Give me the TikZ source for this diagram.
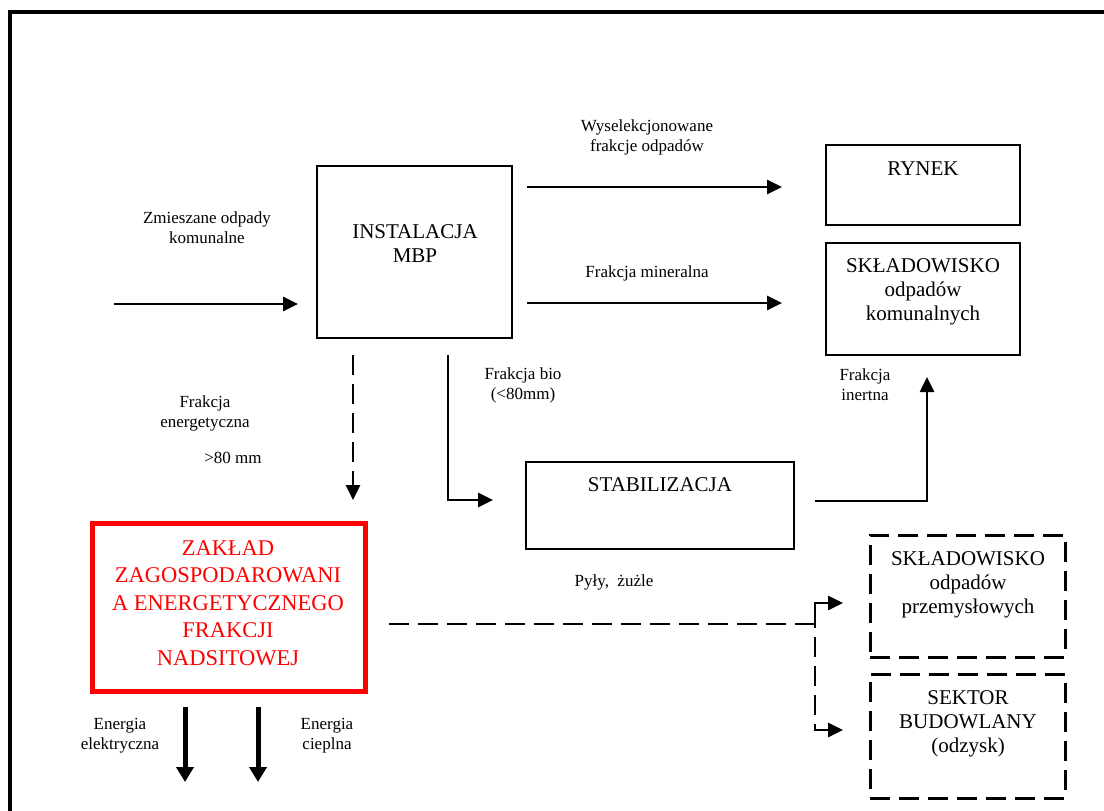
\documentclass[tikz,border=0pt]{standalone}
\usepackage{fontspec}
\setmainfont{Liberation Serif}
\usetikzlibrary{arrows.meta}
\begin{document}
\begin{tikzpicture}[x=1pt,y=-1pt,
  boxs/.style={draw, line width=2pt, inner sep=0pt, outer sep=0pt},
  dbox/.style={draw, line width=3pt, dash pattern=on 20pt off 9pt, inner sep=0pt, outer sep=0pt},
  redbox/.style={draw=red, line width=5pt, inner sep=0pt, outer sep=0pt},
  small/.style={inner sep=0pt, align=center, font=\fontsize{17}{20}\selectfont},
  big/.style={inner sep=0pt, align=center, font=\fontsize{21}{24}\selectfont},
  redtxt/.style={inner sep=0pt, align=center, text=red, font=\fontsize{22.5}{27.5}\selectfont},
  arr/.style={line width=2.6pt, -{Triangle[length=15pt,width=14pt]}},
  darr/.style={arr, dash pattern=on 20pt off 9pt},
  tarr/.style={line width=5pt, -{Triangle[length=15pt,width=17pt]}}]
\useasboundingbox (0,0) rectangle (1104,811);
\clip (0,0) rectangle (1104,811);
\draw[line width=4pt] (10,12) rectangle (1130,840);

% boxes
\node[boxs, minimum width=195pt, minimum height=172pt] (mbp) at (414.5,252) {};
\node[big] (mbpt) at (415,244) {INSTALACJA\\MBP};
\node[boxs, minimum width=194pt, minimum height=80pt] (rynek) at (923,185) {};
\node[big] (rynekt) at (923,168.5) {RYNEK};
\node[boxs, minimum width=194pt, minimum height=112pt] (skl) at (923,299) {};
\node[big] (sklt) at (923,292) {SKŁADOWISKO\\odpadów\\komunalnych};
\node[boxs, minimum width=268pt, minimum height=87pt] (stab) at (660,505.5) {};
\node[big] (stabt) at (660,485) {STABILIZACJA};
\node[redbox, minimum width=273pt, minimum height=168pt] (zak) at (228.5,607) {};
\node[redtxt] (zakt) at (228,603) {ZAKŁAD\\ZAGOSPODAROWANI\\A ENERGETYCZNEGO\\FRAKCJI\\NADSITOWEJ};
\node[dbox, minimum width=195pt, minimum height=122pt] (sklp) at (967.5,596) {};
\node[big] (sklpt) at (968,585) {SKŁADOWISKO\\odpadów\\przemysłowych};
\node[dbox, minimum width=195pt, minimum height=124pt] (sek) at (967.5,736) {};
\node[big] (sekt) at (968,724) {SEKTOR\\BUDOWLANY\\(odzysk)};

% labels
\node[small] (l1) at (207,228) {Zmieszane odpady\\komunalne};
\node[small] (l2) at (647,137) {Wyselekcjonowane\\frakcje odpadów};
\node[small] (l3) at (647,273) {Frakcja mineralna};
\node[small] (l4) at (523,385) {Frakcja bio\\(<80mm)};
\node[small] (l5) at (205,413) {Frakcja\\energetyczna};
\node[small] (l6) at (233,458) {>80 mm};
\node[small] (l7) at (614,582) {Pyły,\ \ żużle};
\node[small] (l8) at (865,385) {Frakcja\\inertna};
\node[small] (l9) at (120,736) {Energia\\elektryczna};
\node[small] (l10) at (327,736) {Energia\\cieplna};

% connectors
\coordinate (inS) at (114,304);
\draw[arr, shorten >=19pt] (inS) -- (inS -| mbp.west);
\coordinate (r1) at (0,187);
\coordinate (r2) at (0,303);
\draw[arr, shorten <=15pt, shorten >=44pt] (mbp.east |- r1) -- (rynek.west |- r1);
\draw[arr, shorten <=15pt, shorten >=44pt] (mbp.east |- r2) -- (skl.west |- r2);
\coordinate (dx) at (353,0);
\draw[darr, shorten <=17pt, shorten >=23pt] (mbp.south -| dx) -- (zak.north -| dx);
\coordinate (bx) at (448,0);
\draw[arr, shorten <=17pt, shorten >=33pt] (mbp.south -| bx) |- ([yshift=5.5pt]stab.west);
\draw[arr, shorten <=21pt, shorten >=22pt] ([yshift=4.5pt]stab.east) -| ([xshift=4pt]skl.south);
\coordinate (sp) at (815,624);
\draw[line width=2.6pt, dash pattern=on 20pt off 9pt, dash phase=25pt, shorten <=20pt] (zak.east |- sp) -- (sp);
\draw[arr, line cap=butt] (sp) |- ([yshift=-7pt,xshift=-27pt]sklp.west);
\draw[darr, dash phase=16pt, shorten >=27pt] (sp) |- ([yshift=6pt]sek.west);
\coordinate (e1) at (185,782);
\coordinate (e2) at (258,782);
\draw[tarr, shorten <=16pt] (zak.south -| e1) -- (e1);
\draw[tarr, shorten <=16pt] (zak.south -| e2) -- (e2);
\end{tikzpicture}
\end{document}
